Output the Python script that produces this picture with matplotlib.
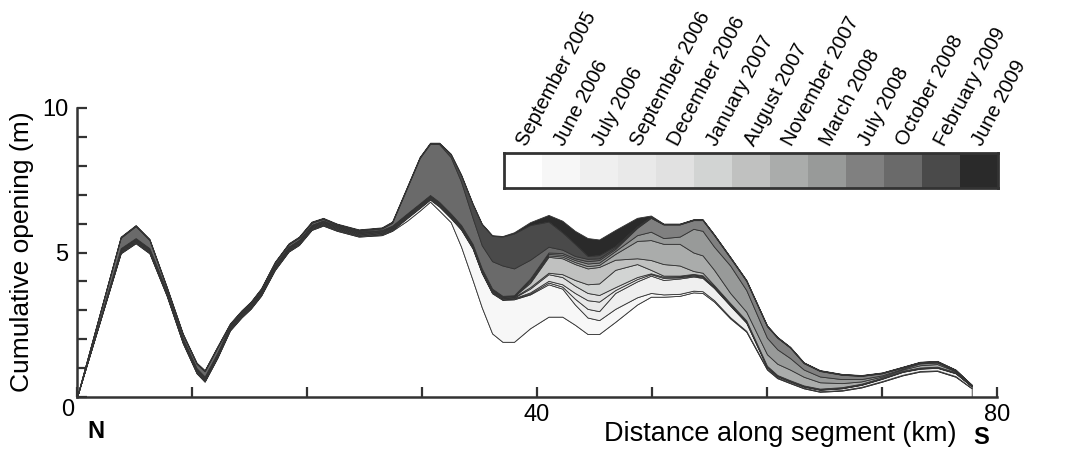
import numpy as np
import matplotlib
matplotlib.use('Agg')
import matplotlib.pyplot as plt
from matplotlib.colors import to_rgb

plt.rcParams['font.family'] = ['Liberation Sans', 'DejaVu Sans']

# distance along segment (km)
x_km = [0, 3.8, 5.1, 6.3, 7.8, 9.2, 10.4, 11.1, 12.2, 13.3,
        14.3, 15.1, 16.0, 17.2, 18.4, 19.3, 20.4, 21.4, 22.6, 24.5,
        26.5, 27.4, 28.7, 29.8, 30.7, 31.5, 32.5, 33.4, 34.4, 35.2,
        36.1, 37.0, 38.0, 39.4, 41.0, 42.2, 43.3, 44.4, 45.4, 46.8,
        48.7, 49.9, 51.0, 52.4, 53.6, 54.4, 55.4, 56.8, 58.2, 60.0,
        60.9, 62.0, 63.2, 64.6, 66.5, 68.2, 70.0, 71.8, 73.3, 74.8,
        76.4, 77.8]

# cumulative opening at September 2005 (m)
sep_2005 = [0, 4.97, 5.32, 4.97, 3.5, 1.86, 0.82, 0.53, 1.35, 2.3,
            2.75, 3.05, 3.5, 4.39, 5.03, 5.26, 5.78, 5.93, 5.75, 5.55,
            5.6, 5.75, 6.1, 6.45, 6.76, 6.45, 6.05, 5.2, 4.05, 3.1,
            2.2, 1.91, 1.91, 2.38, 2.78, 2.78, 2.5, 2.18, 2.18, 2.6,
            3.2, 3.47, 3.47, 3.5, 3.62, 3.6, 3.3, 2.72, 2.26, 0.95,
            0.65, 0.48, 0.3, 0.18, 0.22, 0.33, 0.53, 0.75, 0.88, 0.9,
            0.7, 0.3]

# opening added by each later survey (m)
jun_2006 = [0, .02, .02, .02, .02, .02, .02, .02, .02, .02,
            .02, .02, .02, .02, .02, .02, .02, .02, .02, .02,
            .02, .02, .09, .09, .07, .14, .14, .59, 1.09, 1.19,
            1.39, 1.45, 1.47, 1.17, 1.12, .97, .7, .57, .48, .45,
            .25, .13, .08, .07, .06, .06, .05, .04, .03, .03,
            .03, .02, .02, .02, .02, .02, .02, .02, .02, .02,
            .02, .01]
jul_2006 = [0, .02, .02, .02, .02, .02, .02, .02, .02, .02,
            .02, .02, .02, .02, .02, .02, .02, .02, .02, .02,
            .02, .02, .02, .02, .02, .02, .02, .02, .02, .02,
            .02, .02, .02, .03, .06, .07, .2, .3, .31, .55,
            .55, .6, .5, .53, .49, .46, .42, .4, .28, .05,
            .04, .04, .04, .05, .06, .07, .08, .1, .08, .09,
            .1, .06]
sep_2006 = [0, .02, .02, .02, .02, .02, .02, .02, .02, .02,
            .02, .02, .02, .02, .02, .02, .02, .02, .02, .02,
            .02, .02, .02, .02, .02, .02, .02, .02, .02, .02,
            .02, .02, .02, .04, .06, .08, .2, .3, .33, .1,
            .08, .05, .07, .04, .03, .03, .02, .02, .02, .01,
            .01, .01, .01, .01, .01, .01, .01, .01, .01, .01,
            .01, 0]
dec_2006 = [0, .02, .02, .02, .02, .02, .02, .02, .02, .02,
            .02, .02, .02, .02, .02, .02, .02, .02, .02, .02,
            .02, .02, .02, .02, .02, .02, .02, .02, .02, .02,
            .02, .02, .02, .13, .23, .25, .25, .25, .23, .1,
            .07, .03, .04, .03, .03, .03, .02, .02, .02, .01,
            .01, .01, .01, .01, .01, .01, .01, .01, .01, .01,
            .01, 0]
jan_2007 = [0, .02, .02, .02, .02, .02, .02, .02, .02, .02,
            .02, .02, .02, .02, .02, .02, .02, .02, .02, .02,
            .02, .02, .02, .02, .02, .02, .02, .02, .02, .02,
            .02, .02, .02, .05, .05, .1, .2, .3, .4, .6,
            .45, .12, .04, .03, .03, .03, .02, .02, .02, .01,
            .01, .01, .01, .01, .01, .01, .01, .01, .01, .01,
            .01, 0]
aug_2007 = [0, .02, .02, .02, .02, .02, .02, .02, .02, .02,
            .02, .02, .02, .02, .02, .02, .02, .02, .02, .02,
            .02, .02, .02, .02, .02, .02, .02, .02, .02, .02,
            .02, .02, .02, .15, .55, .55, .55, .55, .57, .35,
            .2, .34, .4, .35, .1, .09, .04, .03, .02, .02,
            .01, .01, .01, .01, .01, .01, .01, .01, .01, .01,
            .01, 0]
nov_2007 = [0, .02, .02, .02, .02, .02, .02, .02, .02, .02,
            .02, .02, .02, .02, .02, .02, .02, .02, .02, .02,
            .02, .02, .02, .02, .02, .02, .02, .02, .02, .02,
            .02, .02, .02, .05, .05, .06, .07, .08, .07, .2,
            .6, .69, .7, .75, .64, .6, .53, .35, .3, .4,
            .39, .37, .3, .22, .14, .08, .04, .04, .08, .09,
            .03, .02]
mar_2008 = [0, .02, .02, .02, .02, .02, .02, .02, .02, .02,
            .02, .02, .02, .02, .02, .02, .02, .02, .02, .02,
            .02, .02, .02, .02, .02, .02, .02, .02, .02, .02,
            .02, .01, .01, .05, .05, .06, .07, .09, .08, .1,
            .2, .29, .2, .25, .82, .85, .8, .95, .75, .57,
            .5, .4, .25, .2, .14, .08, .04, .03, .06, .05,
            .02, .01]
jul_2008 = [0, .02, .02, .02, .02, .02, .02, .02, .02, .02,
            .02, .02, .02, .02, .02, .02, .02, .02, .02, .02,
            .02, .02, .02, .02, .02, .02, .02, .02, .02, .02,
            .02, .01, .01, .05, .05, .06, .06, .08, .09, .07,
            .25, .48, .47, .42, .3, .37, .4, .27, .32, .4,
            .4, .36, .22, .19, .15, .11, .07, .04, .03, .03,
            .01, .01]
oct_2008 = [0, .36, .41, .28, .1, .12, .15, .18, .18, .03,
            .03, .03, .04, .07, .07, .07, .07, .05, .03, .03,
            .05, .1, .89, 1.57, 1.77, 2.0, 1.95, 1.5, .9, .8,
            .95, 1.05, .93, .65, .2, .12, .08, .08, .06, .05,
            .03, .02, .01, .01, .01, .01, .01, .01, .01, .01,
            .01, .01, .01, .01, .01, .01, .01, .01, .01, .01,
            .01, .01]
feb_2009 = [0, .02, .02, .02, .02, .02, .02, .02, .02, .02,
            .02, .02, .02, .02, .02, .02, .02, .02, .02, .02,
            .02, .02, .02, .02, .02, .03, .1, .23, .48, .73,
            .88, 1.0, 1.21, 1.2, .87, .6, .42, .1, .11, .05,
            .02, .02, .01, .01, .01, .01, .01, .01, .01, .01,
            .01, .01, .01, .01, .01, .01, .01, .01, .01, .01,
            .01, 0]
jun_2009 = [0, .02, .02, .02, .02, .02, .02, .02, .02, .02,
            .02, .02, .02, .02, .02, .02, .02, .02, .02, .02,
            .02, .02, .02, .02, .02, .02, .02, .02, .02, .02,
            .02, .02, .04, .1, .23, .4, .45, .62, .54, .56,
            .3, .04, .01, .01, .01, .01, .01, .01, .01, .01,
            .01, .01, .01, .01, .01, .01, .01, .01, .01, .01,
            .01, 0]

dates = ['September 2005', 'June 2006', 'July 2006', 'September 2006',
         'December 2006', 'January 2007', 'August 2007', 'November 2007',
         'March 2008', 'July 2008', 'October 2008', 'February 2009', 'June 2009']
colors = ['#ffffff', '#f7f7f7', '#efefef', '#e9e9e9', '#e1e1e1', '#d2d4d3',
          '#c0c1c0', '#aaacab', '#989a99', '#808080', '#6a6a6a', '#4a4a4a', '#2a2a2a']

layers = [jun_2006, jul_2006, sep_2006, dec_2006, jan_2007, aug_2007,
          nov_2007, mar_2008, jul_2008, oct_2008, feb_2009, jun_2009]

x = np.array(x_km)
curves = [np.array(sep_2005)]
for lay in layers:
    curves.append(curves[-1] + np.array(lay))

edge = '#333333'
fig = plt.figure(figsize=(10.66, 4.51), dpi=100)
ax = fig.add_axes([77 / 1066, 1 - 397 / 451, 920 / 1066, 289 / 451])

lower = np.zeros_like(x)
for c, col in zip(curves, colors):
    ax.fill_between(x, lower, c, facecolor=col, edgecolor=edge, linewidth=0.6)
    lower = c

ax.set_xlim(0, 80)
ax.set_ylim(0, 10)
for s in ['top', 'right']:
    ax.spines[s].set_visible(False)
for s in ['left', 'bottom']:
    ax.spines[s].set_linewidth(1.8)
    ax.spines[s].set_color(edge)

ax.set_xticks(np.arange(0, 81, 10))
ax.set_xticklabels(['', '', '', '', '40', '', '', '', '80'])
ax.set_yticks(np.arange(0, 11, 1))
ax.set_yticklabels(['', '', '', '', '', '5', '', '', '', '', '10'])
ax.tick_params(direction='in', length=7, width=1.6, color=edge,
               labelsize=17, pad=5)
ax.tick_params(axis='y', pad=6)

fig.text(68 / 1066, 1 - 410 / 451, '0', fontsize=17, ha='center', va='center')
fig.text(22 / 1066, 1 - 252 / 451, 'Cumulative opening (m)', fontsize=19,
         rotation=90, ha='center', va='center')
fig.text(780 / 1066, 1 - 434 / 451, 'Distance along segment (km)', fontsize=19.5,
         ha='center', va='center')
fig.text(96 / 1066, 1 - 432 / 451, 'N', fontsize=17, fontweight='bold',
         ha='center', va='center')
fig.text(981 / 1066, 1 - 437 / 451, 'S', fontsize=17, fontweight='bold',
         ha='center', va='center')

# date key
lax = fig.add_axes([504 / 1066, 1 - 188 / 451, 494 / 1066, 35 / 451])
key = np.array([[to_rgb(c) for c in colors]])
lax.imshow(key, aspect='auto', extent=[0, len(colors), 0, 1], interpolation='nearest')
lax.set_xlim(0, len(colors))
lax.set_ylim(0, 1)
lax.set_xticks([])
lax.set_yticks([])
for s in lax.spines.values():
    s.set_linewidth(2)
    s.set_color(edge)
for i, d in enumerate(dates):
    lax.text(i + 0.58, 1.18, d, rotation=62, rotation_mode='anchor',
             ha='left', va='baseline', fontsize=14.5, clip_on=False)

fig.savefig('out.png', dpi=100)
